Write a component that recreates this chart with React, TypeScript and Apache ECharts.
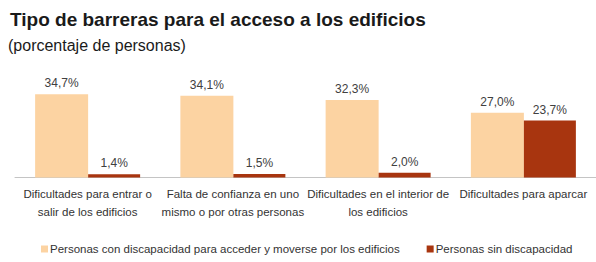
import React, { useEffect, useRef } from "react";
import * as echarts from "echarts";

const categories = [
  "Dificultades para entrar o\nsalir de los edificios",
  "Falta de confianza en uno\nmismo o por otras personas",
  "Dificultades en el interior de\nlos edificios",
  "Dificultades para aparcar",
];
const seriesNames = [
  "Personas con discapacidad para acceder y moverse por los edificios",
  "Personas sin discapacidad",
];
const conDiscapacidad = [34.7, 34.1, 32.3, 27.0];
const sinDiscapacidad = [1.4, 1.5, 2.0, 23.7];

const FONT = "'Liberation Sans', Arial, sans-serif";
const fmt = (v: number) => v.toFixed(1).replace(".", ",") + "%";

export default function App() {
  const ref = useRef<HTMLDivElement>(null);
  useEffect(() => {
    document.body.style.margin = "0";
    const chart = echarts.init(ref.current!, null, { renderer: "svg" });
    const labelStyle = {
      show: true,
      position: "top" as const,
      distance: 5,
      fontSize: 12,
      color: "#404040",
      fontFamily: FONT,
      formatter: (p: any) => fmt(p.value),
    };
    chart.setOption({
      animation: false,
      backgroundColor: "#ffffff",
      title: [
        {
          text: "Tipo de barreras para el acceso a los edificios",
          left: 10,
          top: 10,
          padding: 0,
          textStyle: { fontSize: 19, fontWeight: "bold", color: "#1a1a1a", fontFamily: FONT },
        },
        {
          text: "(porcentaje de personas)",
          left: 8,
          top: 37,
          padding: 0,
          textStyle: { fontSize: 16, fontWeight: "normal", color: "#1a1a1a", fontFamily: FONT },
        },
      ],
      legend: {
        left: 41,
        top: 243,
        padding: 0,
        itemWidth: 7,
        itemHeight: 7,
        itemGap: 27,
        icon: "rect",
        textStyle: { fontSize: 11.5, color: "#333", fontFamily: FONT, padding: [0, 0, 0, -3] },
        data: seriesNames,
      },
      grid: { left: 15, width: 588, top: 57.5, height: 120 },
      xAxis: {
        type: "category",
        data: categories,
        axisLine: { lineStyle: { color: "#c4c4c4", width: 1 } },
        axisTick: { show: false },
        axisLabel: {
          interval: 0,
          margin: 7,
          fontSize: 11.5,
          lineHeight: 18,
          color: "#333",
          fontFamily: FONT,
        },
      },
      yAxis: { type: "value", min: 0, max: 50, show: false, splitLine: { show: false } },
      series: [
        {
          name: seriesNames[0],
          type: "bar",
          data: conDiscapacidad,
          barWidth: 53,
          barGap: "0%",
          itemStyle: { color: "#fcd3a2" },
          label: labelStyle,
        },
        {
          name: seriesNames[1],
          type: "bar",
          data: sinDiscapacidad,
          barWidth: 52,
          barGap: "0%",
          itemStyle: { color: "#a8350f" },
          label: labelStyle,
        },
      ],
    });
    return () => chart.dispose();
  }, []);
  return <div ref={ref} style={{ width: 596, height: 262 }} />;
}
